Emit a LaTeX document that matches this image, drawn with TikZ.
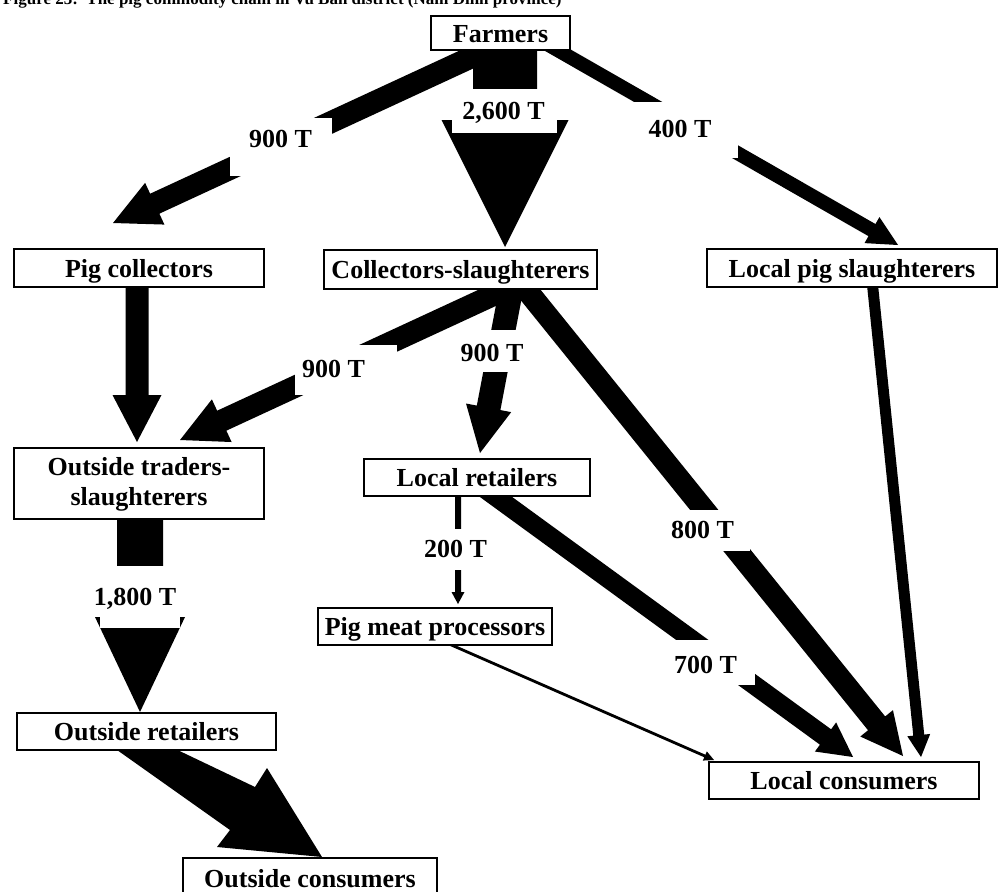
\documentclass[tikz,border=0pt]{standalone}
\usepackage{fontspec}
\setmainfont{Liberation Serif}
\usetikzlibrary{calc}

\tikzset{
  box/.style={draw, line width=2.5pt, fill=white, inner sep=0pt,
    text height=18pt, text depth=0pt, font=\bfseries\fontsize{26}{30}\selectfont},
  qty/.style={inner sep=0pt, anchor=base, font=\bfseries\fontsize{26}{30}\selectfont},
  gap/.style={fill=white},
}

% Filled block arrow: tail, tip, half stem width, half head width, head length
\newcommand\blockarrow[5]{%
  \coordinate (hb) at ($(#2)!#5!(#1)$);
  \fill ($(#1)!#3!90:(#2)$) -- ($(hb)!#3!90:(#2)$) -- ($(hb)!#4!90:(#2)$) -- (#2)
     -- ($(hb)!#4!-90:(#2)$) -- ($(hb)!#3!-90:(#2)$) -- ($(#1)!#3!-90:(#2)$) -- cycle;
}

\begin{document}
\begin{tikzpicture}[x=1pt, y=-1pt]
\useasboundingbox (0,0) rectangle (1002,892);
\clip (0,0) rectangle (1002,892);

% caption line
\node[anchor=base west, inner sep=0pt, font=\bfseries\fontsize{17}{20}\selectfont] (title) at (3,4)
  {Figure 23:\ \ The pig commodity chain in Vu Ban district (Nam Dinh province)};

% flow arrows
\coordinate (a1t) at (500,44);  \coordinate (a1h) at (113,223);
\blockarrow{a1t}{a1h}{11pt}{23pt}{46pt}
\coordinate (a2t) at (505,40);  \coordinate (a2h) at (505,247);
\blockarrow{a2t}{a2h}{32pt}{63.5pt}{127pt}
\coordinate (a3t) at (540,40);  \coordinate (a3h) at (898,245);
\blockarrow{a3t}{a3h}{7pt}{15pt}{30pt}
\coordinate (a4t) at (137,280); \coordinate (a4h) at (137,442);
\blockarrow{a4t}{a4h}{11.5pt}{24.5pt}{47pt}
\coordinate (a5t) at (515,285); \coordinate (a5h) at (180,440);
\blockarrow{a5t}{a5h}{11pt}{23.5pt}{46pt}
\coordinate (a6t) at (512,285); \coordinate (a6h) at (480,453);
\blockarrow{a6t}{a6h}{12pt}{23pt}{46pt}
\coordinate (a7t) at (525,288); \coordinate (a7h) at (903,756);
\blockarrow{a7t}{a7h}{11pt}{21pt}{42pt}
\coordinate (a8t) at (872,280); \coordinate (a8h) at (921,757);
\blockarrow{a8t}{a8h}{5.5pt}{11.5pt}{22pt}
\coordinate (a9t) at (458,490); \coordinate (a9h) at (458,604);
\blockarrow{a9t}{a9h}{3pt}{6.5pt}{12pt}
\coordinate (a10t) at (470,478); \coordinate (a10h) at (853,757);
\blockarrow{a10t}{a10h}{9.5pt}{18pt}{34pt}
\coordinate (a11t) at (440,640); \coordinate (a11h) at (714,760);
\blockarrow{a11t}{a11h}{1.4pt}{5pt}{10pt}
\coordinate (a12t) at (140,515); \coordinate (a12h) at (140,712);
\blockarrow{a12t}{a12h}{23pt}{45pt}{95pt}

% widening arrow to the outside consumers
\coordinate (w1) at (110,745); \coordinate (w2) at (167,745);
\coordinate (w3) at (255,787); \coordinate (w4) at (267,768);
\coordinate (w5) at (322,857); \coordinate (w6) at (217,847);
\coordinate (w7) at (230,830);
\fill (w1) -- (w2) -- (w3) -- (w4) -- (w5) -- (w6) -- (w7) -- cycle;

% quantity labels on white patches
\fill[gap] (452,89) rectangle (557,133);
\node[qty] (q2600) at (503.5,119) {2,600 T};
\fill[gap] (230,118) rectangle (332,176);
\node[qty] (q900a) at (280.5,147) {900 T};
\fill[gap] (630,102) rectangle (738,158);
\node[qty] (q400) at (680,137) {400 T};
\fill[gap] (295,345) rectangle (397,395);
\node[qty] (q900b) at (333.5,377) {900 T};
\fill[gap] (455,330) rectangle (530,372);
\node[qty] (q900c) at (492,361) {900 T};
\fill[gap] (662,510) rectangle (750,551);
\node[qty] (q800) at (702.5,538) {800 T};
\fill[gap] (420,529) rectangle (492,570);
\node[qty] (q200) at (455.5,557) {200 T};
\fill[gap] (665,640) rectangle (755,685);
\node[qty] (q700) at (705.5,673) {700 T};
\fill[gap] (100,566) rectangle (180,628);
\node[qty] (q1800) at (135,605) {1,800 T};

% actors
\node[box, minimum width=139pt, minimum height=34pt] (farmers) at (500.5,33) {Farmers};
\node[box, minimum width=250pt, minimum height=38pt] (pigcoll) at (139,268) {Pig collectors};
\node[box, minimum width=273pt, minimum height=39pt] (collslau) at (460.5,269.5) {Collectors-slaughterers};
\node[box, minimum width=290pt, minimum height=38pt] (localslau) at (852,268) {Local pig slaughterers};
\node[box, minimum width=250pt, minimum height=71pt] (traders) at (139,483.5) {};
\node[qty, align=center, anchor=north] (tradersText) at (139,457) {Outside traders-\\slaughterers};
\node[box, minimum width=226pt, minimum height=37pt] (localret) at (477,477.5) {Local retailers};
\node[box, minimum width=234pt, minimum height=37pt] (proc) at (435,626.5) {Pig meat processors};
\node[box, minimum width=259pt, minimum height=37pt] (outret) at (146.5,731.5) {Outside retailers};
\node[box, minimum width=270pt, minimum height=37pt] (localcons) at (844,780.5) {Local consumers};
\node[box, minimum width=254pt, minimum height=40pt] (outcons) at (310,878) {Outside consumers};
\end{tikzpicture}
\end{document}
